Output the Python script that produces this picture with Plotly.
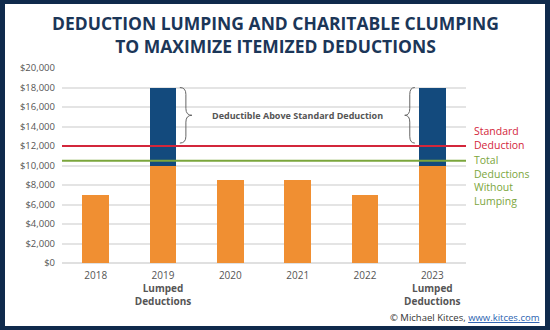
import plotly.graph_objects as go

# Tax-year data (USD)
years = ["2018", "2019", "2020", "2021", "2022", "2023"]
base_deductions = [7000, 10000, 8500, 8500, 7000, 10000]
lumped_extra = [0, 8000, 0, 0, 0, 8000]
lumped_flags = [False, True, False, False, False, True]
standard_deduction = 12000
total_without_lumping = 10500
y_ticks = [0, 2000, 4000, 6000, 8000, 10000, 12000, 14000, 16000, 18000, 20000]
std_label_lines = ["Standard", "Deduction"]
total_label_lines = ["Total", "Deductions", "Without", "Lumping"]

NAVY = "#0f2a4c"
ORANGE = "#f08f32"
BLUE = "#134a7d"
RED = "#d3263b"
GREEN = "#7ba63c"
GREY = "#555555"
FONT = "Open Sans"

xpos = list(range(len(years)))
ticktext = [
    f"{y}<br><b>Lumped</b><br><b>Deductions</b>" if f else y
    for y, f in zip(years, lumped_flags)
]

fig = go.Figure()
fig.add_trace(go.Bar(x=xpos, y=base_deductions, marker_color=ORANGE,
                     marker_line_width=0, width=0.4))
fig.add_trace(go.Bar(x=xpos, y=lumped_extra, marker_color=BLUE,
                     marker_line_width=0, width=0.4))

# Horizontal reference lines across the full category range
xr = [-0.5, len(years) - 0.5]
fig.add_trace(go.Scatter(x=xr, y=[standard_deduction] * 2, mode="lines",
                         line=dict(color=RED, width=2), hoverinfo="skip"))
fig.add_trace(go.Scatter(x=xr, y=[total_without_lumping] * 2, mode="lines",
                         line=dict(color=GREEN, width=2), hoverinfo="skip"))


def brace(x_edge, x_tip, y_top, y_bot, dy=700):
    """Curly brace from x_edge pointing toward x_tip, spanning y_bot..y_top."""
    xm = (x_edge + x_tip) / 2
    ym = (y_top + y_bot) / 2
    return (f"M {x_edge},{y_top} Q {xm},{y_top} {xm},{y_top - dy} "
            f"L {xm},{ym + dy} Q {xm},{ym} {x_tip},{ym} "
            f"Q {xm},{ym} {xm},{ym - dy} "
            f"L {xm},{y_bot + dy} Q {xm},{y_bot} {x_edge},{y_bot}")


lumped_idx = [i for i, f in enumerate(lumped_flags) if f]
top_val = base_deductions[lumped_idx[0]] + lumped_extra[lumped_idx[0]]
brace_bot = standard_deduction + 300
shapes = [
    dict(type="path", xref="x", yref="y",
         path=brace(lumped_idx[0] + 0.25, lumped_idx[0] + 0.43, top_val, brace_bot),
         line=dict(color="#666666", width=1)),
    dict(type="path", xref="x", yref="y",
         path=brace(lumped_idx[1] - 0.26, lumped_idx[1] - 0.41, top_val, brace_bot),
         line=dict(color="#666666", width=1)),
]

# Navy frame with a white card inside
W, H = 550, 330
ml, mr, mt, mb = 62, 84, 68, 67
pw, ph = W - ml - mr, H - mt - mb


def px(x):
    return (x - ml) / pw


def py(y):
    return (H - mb - y) / ph


shapes.insert(0, dict(type="rect", xref="paper", yref="paper", layer="below",
                      x0=px(5), x1=px(545), y0=py(326), y1=py(4),
                      fillcolor="white", line_width=0))

annotations = [
    dict(xref="paper", yref="paper", x=px(275), y=py(35), xanchor="center",
         yanchor="middle", showarrow=False,
         text="<b>DEDUCTION LUMPING AND CHARITABLE CLUMPING<br>"
              "TO MAXIMIZE ITEMIZED DEDUCTIONS</b>",
         font=dict(family=FONT, size=17.5, color="#1b3658")),
    dict(xref="x", yref="y", x=(lumped_idx[0] + lumped_idx[1]) / 2,
         y=(top_val + brace_bot) / 2, showarrow=False,
         text="<b>Deductible Above Standard Deduction</b>",
         font=dict(family=FONT, size=9, color=GREY)),
    dict(xref="paper", yref="paper", x=px(542), y=py(317),
         xanchor="right", yanchor="middle", showarrow=False,
         text='© Michael Kitces, <span style="color:#2a5fb0;text-decoration:underline">'
              'www.kitces.com</span>',
         font=dict(family=FONT, size=9.5, color="#333333")),
    # Side labels next to the reference lines
    dict(xref="paper", yref="y", x=px(472), y=standard_deduction,
         xanchor="left", yanchor="middle", yshift=8, showarrow=False,
         align="left", text="<br>".join(std_label_lines),
         font=dict(family=FONT, size=10.5, color=RED)),
    dict(xref="paper", yref="y", x=px(472), y=total_without_lumping,
         xanchor="left", yanchor="middle", yshift=-20, showarrow=False,
         align="left", text="<br>".join(total_label_lines),
         font=dict(family=FONT, size=10.5, color=GREEN)),
]

fig.update_layout(
    width=W, height=H,
    margin=dict(l=ml, r=mr, t=mt, b=mb, pad=0),
    barmode="stack",
    showlegend=False,
    paper_bgcolor=NAVY,
    plot_bgcolor="rgba(0,0,0,0)",
    shapes=shapes,
    annotations=annotations,
    xaxis=dict(range=xr, tickvals=xpos, ticktext=ticktext, showgrid=False,
               zeroline=False, showline=False, ticks="",
               ticklabelstandoff=5,
               tickfont=dict(family=FONT, size=10, color=GREY)),
    yaxis=dict(range=[0, 20000], tickvals=y_ticks,
               ticktext=[f"${v:,}" for v in y_ticks],
               gridcolor="#e4e4e4", gridwidth=1.5, zeroline=True,
               zerolinecolor="#e0e0e0", zerolinewidth=1.5, ticks="",
               ticklabelstandoff=6,
               tickfont=dict(family=FONT, size=9.5, color=GREY)),
)

fig.write_html("out.html")
